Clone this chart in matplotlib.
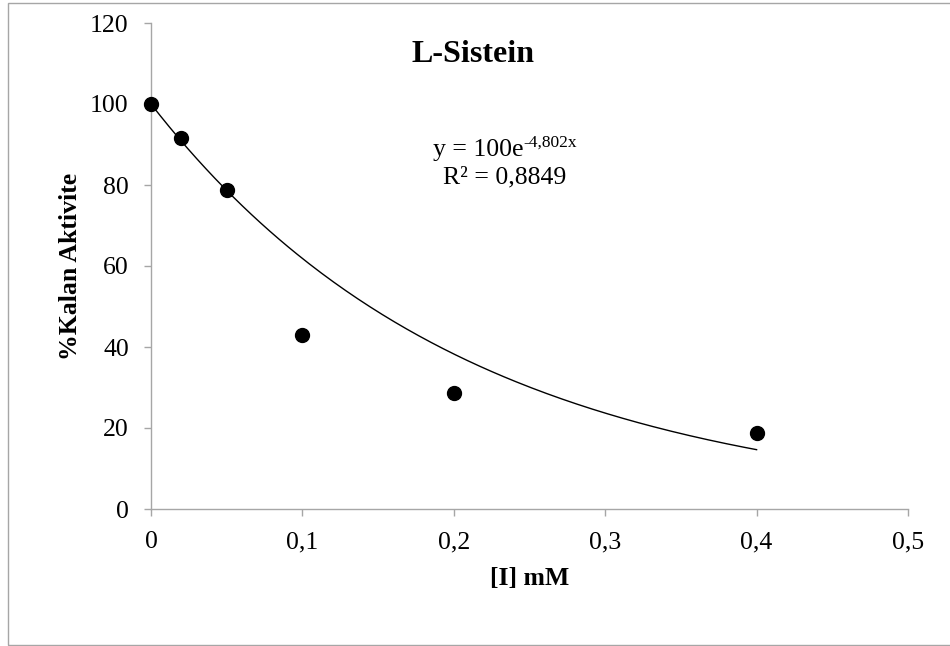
import matplotlib.pyplot as plt
import matplotlib.patches as patches
import numpy as np

plt.rcParams['font.family'] = ['Liberation Serif', 'DejaVu Serif']

konsantrasyon = [0, 0.02, 0.05, 0.1, 0.2, 0.4]
kalan_aktivite = [100, 91.6, 78.8, 43.0, 28.7, 18.7]
x_ticks = [0, 0.1, 0.2, 0.3, 0.4, 0.5]
x_labels = ['0', '0,1', '0,2', '0,3', '0,4', '0,5']
y_ticks = [0, 20, 40, 60, 80, 100, 120]
a, b = 100, -4.802

fig = plt.figure(figsize=(9.5, 6.46), dpi=100)
ax = fig.add_axes([151 / 950, 1 - 509 / 646, 757 / 950, 486 / 646])

xs = np.linspace(0, 0.4, 200)
ax.plot(xs, a * np.exp(b * xs), color='black', linewidth=1)
ax.plot(konsantrasyon, kalan_aktivite, 'o', color='black', markersize=10,
        clip_on=False, zorder=3)

ax.set_xlim(0, 0.5)
ax.set_ylim(0, 120)
ax.set_xticks(x_ticks)
ax.set_xticklabels(x_labels)
ax.set_yticks(y_ticks)

for s in ['top', 'right']:
    ax.spines[s].set_visible(False)
for s in ['left', 'bottom']:
    ax.spines[s].set_color('#a6a6a6')
    ax.spines[s].set_linewidth(1)
ax.tick_params(axis='both', direction='out', length=5, width=1,
               color='#a6a6a6', labelsize=18.5)
ax.tick_params(axis='y', pad=11)
ax.tick_params(axis='x', pad=11)

ax.set_xlabel('[I] mM', fontsize=18.5, fontweight='bold', labelpad=10)
ax.set_ylabel('%Kalan Aktivite', fontsize=18.5, fontweight='bold', labelpad=6)

fig.text(473 / 950, 1 - 55 / 646, 'L-Sistein', fontsize=23, fontweight='bold',
         ha='center', va='center')

# denklem: ana metin + ust simge, birlikte ortalanir
renderer = fig.canvas.get_renderer()
t1 = fig.text(0, 1 - 150 / 646, 'y = 100e', fontsize=18.5, va='center')
t2 = fig.text(0, 1 - 143 / 646, '-4,802x', fontsize=12.5, va='center')
w1 = t1.get_window_extent(renderer).width
w2 = t2.get_window_extent(renderer).width
x0 = 505 - (w1 + w2) / 2
t1.set_x(x0 / 950)
t2.set_x((x0 + w1) / 950)
fig.text(505 / 950, 1 - 177 / 646, 'R² = 0,8849',
         fontsize=18.5, ha='center', va='center')

fig.patches.append(patches.Rectangle((8 / 950, 1 - 645 / 646), 1.0, 642 / 646,
                                     transform=fig.transFigure, fill=False,
                                     edgecolor='#a6a6a6', linewidth=1))

fig.savefig('out.png', dpi=100)
